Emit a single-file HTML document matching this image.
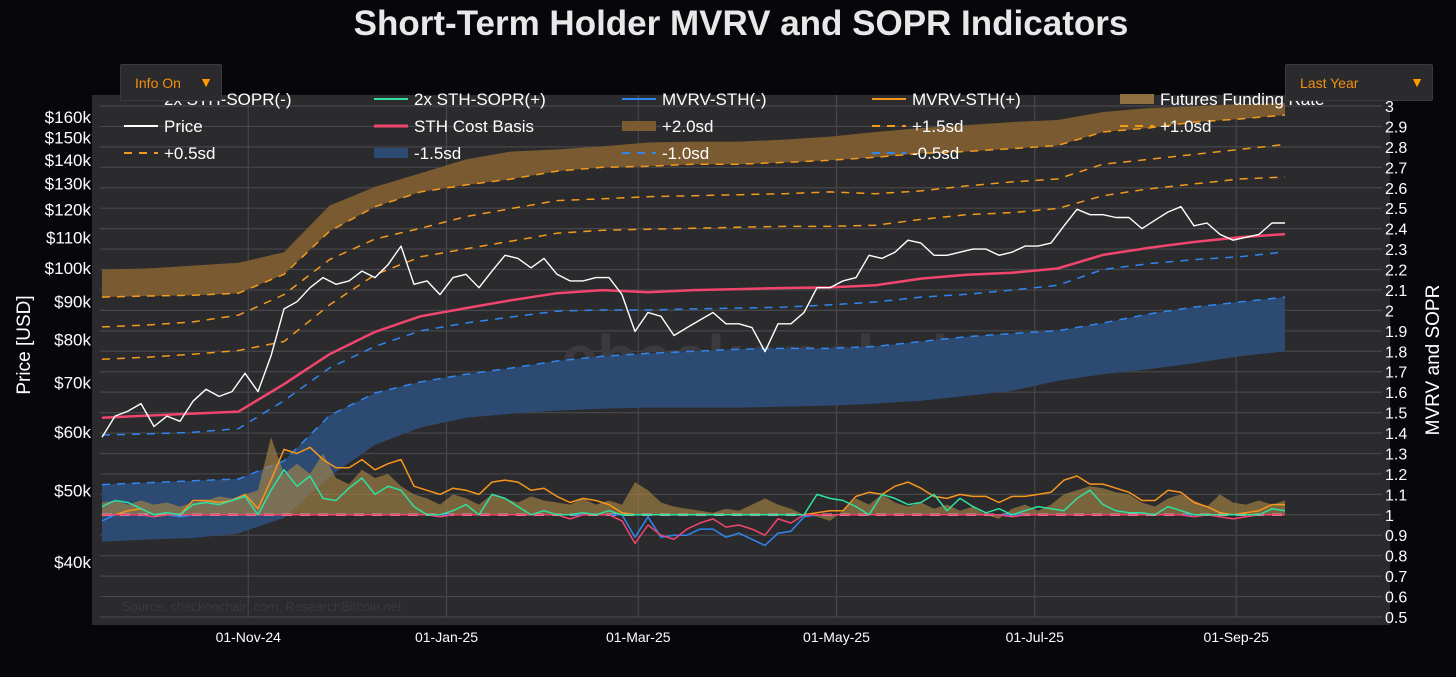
<!DOCTYPE html>
<html><head><meta charset="utf-8">
<style>
html,body{margin:0;padding:0;background:#06060b;width:1456px;height:677px;overflow:hidden;font-family:"Liberation Sans",sans-serif;}
#wrap{position:relative;width:1456px;height:677px;}
svg{position:absolute;left:0;top:0;}
.btn{position:absolute;background:#2b2b2e;border:1px solid #3a3a3e;border-radius:2px;color:#f0900c;font-size:14px;box-sizing:border-box;}
.btn span.arr{position:absolute;right:8px;top:9px;color:#ff9a00;font-size:14px;}
</style></head>
<body>
<div id="wrap">
<svg id="chart" width="1456" height="677"></svg>
<div class="btn" style="left:120px;top:64px;width:102px;height:37px;"><span style="position:absolute;left:14px;top:10px;">Info On</span><span class="arr">▼</span></div>
<div class="btn" style="left:1285px;top:64px;width:148px;height:37px;"><span style="position:absolute;left:14px;top:10px;">Last Year</span><span class="arr">▼</span></div>
</div>
<script>
// ---- data ----
// price (k USD), every 4 days starting 2024-09-17
const priceStep = 4;
const price = [59,63,64,65.5,61,63,62,66,68.5,67,68,72,68,76,88,90,94,97,95,96,99,97,101,107,95,96,92,97,98,94,99,104,103,100,103,98,96,96,97,97,92,82,87,86,81,83,85,87,84,84,83,77,84,84,87,94,94,96,97,104,103,105,109,108,104,104,105,106,106,104,105,107,107,108,114,120,118,118,117,117,113,116,119,121,114,115,111,109,110,111,115,115];
// bands (k USD), every 14 days
const bandStep = 14;
const costBasis = [62.7,63.1,63.5,63.9,69.6,76.4,81.9,86.0,88.2,90.4,92.4,93.3,92.7,93.3,93.6,93.9,94.1,94.7,96.7,97.9,98.5,99.8,104.1,106.4,108.4,110.0,111.1];
const sdPlus20 = [99.5,99.8,100.7,101.6,105.0,121.4,128.7,134.3,140.2,143.7,144.6,146.0,147.8,148.2,148.2,149.1,150.5,152.7,154.6,156.0,157.5,158.5,162.5,164.5,165.5,166.6,167.1];
const sdPlus15 = [91.3,91.6,91.8,92.4,98.0,112.1,121.0,126.7,129.5,131.9,135.2,136.8,137.2,138.1,138.1,138.9,139.8,141.1,142.9,143.7,145.0,146.4,152.7,154.6,157.5,159.0,161.0];
const sdPlus10 = [83.2,83.7,84.5,86.3,92.0,102.6,109.4,113.1,117.3,120.3,123.3,124.0,124.8,125.2,125.6,126.0,126.7,126.0,127.1,129.1,130.7,131.9,138.1,140.2,142.4,144.6,146.9];
const sdPlus05 = [75.2,75.7,76.4,77.3,79.5,89.1,97.9,103.5,106.1,108.7,111.4,112.4,112.8,113.1,113.5,113.8,113.8,114.2,116.3,118.0,118.8,120.3,125.2,127.9,129.9,131.9,132.7];
const sdMinus05 = [59.4,59.6,59.9,60.6,66.1,73.2,78.3,82.2,84.2,85.8,87.4,87.7,87.7,88.0,88.2,88.5,89.1,89.9,91.3,92.1,93.3,94.7,99.5,101.3,102.6,103.5,105.1];
const sdMinus10 = [50.9,51.2,51.5,51.8,54.8,63.1,67.7,70.1,71.8,73.2,74.8,75.9,76.6,77.1,77.6,77.8,77.8,78.3,79.5,80.7,81.5,82.2,84.2,86.6,88.5,89.9,91.3];
const sdMinus15 = [42.6,42.9,43.1,43.7,45.9,52.2,57.6,60.8,62.7,63.5,64.1,64.5,64.7,64.7,64.7,64.9,65.1,65.5,66.1,67.1,68.2,70.3,71.8,72.9,74.3,75.9,77.1];
// oscillators (right axis), every 4 days
const mvrv = [0.97,1.0,1.02,1.03,0.99,1.0,0.99,1.07,1.07,1.06,1.07,1.1,1.03,1.17,1.32,1.30,1.33,1.27,1.23,1.23,1.27,1.22,1.25,1.27,1.14,1.12,1.10,1.13,1.12,1.10,1.16,1.17,1.16,1.12,1.13,1.09,1.06,1.08,1.07,1.05,1.01,0.89,0.99,0.89,0.90,0.90,0.93,0.93,0.89,0.91,0.88,0.85,0.91,0.92,0.99,1.01,1.02,1.02,1.09,1.11,1.10,1.14,1.16,1.13,1.09,1.08,1.10,1.09,1.09,1.06,1.09,1.09,1.10,1.11,1.17,1.19,1.15,1.15,1.13,1.11,1.07,1.07,1.12,1.11,1.06,1.04,1.01,1.00,1.01,1.02,1.05,1.05];
const sopr2x = [1.04,1.07,1.06,1.03,0.99,1.01,1.0,1.05,1.06,1.05,1.07,1.09,1.0,1.12,1.22,1.14,1.19,1.08,1.07,1.13,1.18,1.1,1.14,1.12,1.04,1.0,0.99,1.02,1.05,1.0,1.1,1.08,1.04,1.0,1.02,1.0,0.98,1.01,1.0,1.02,0.97,0.86,0.95,0.9,0.88,0.93,0.96,0.98,0.94,0.95,0.93,0.9,0.98,0.96,1.0,1.1,1.08,1.07,1.04,1.0,1.1,1.08,1.05,1.06,1.1,1.02,1.08,1.04,1.01,1.03,0.99,1.02,1.04,1.03,1.02,1.08,1.12,1.05,1.02,1.01,1.01,1.0,1.04,1.02,0.99,1.0,0.99,0.98,0.99,1.0,1.03,1.02];
const funding = [1.06,1.07,1.05,1.07,1.05,1.06,1.04,1.06,1.07,1.09,1.08,1.1,1.12,1.38,1.2,1.25,1.2,1.3,1.18,1.15,1.22,1.18,1.2,1.14,1.1,1.08,1.05,1.1,1.08,1.05,1.1,1.08,1.06,1.09,1.07,1.06,1.05,1.08,1.05,1.07,1.05,1.16,1.12,1.06,1.04,1.03,1.02,1.01,1.03,1.02,1.05,1.08,1.05,1.03,1.0,0.99,0.97,1.02,1.08,1.05,1.1,1.06,1.04,1.06,1.03,1.05,1.02,1.04,1.0,0.98,1.03,1.05,1.02,1.05,1.1,1.12,1.14,1.13,1.11,1.1,1.06,1.04,1.08,1.1,1.07,1.04,1.1,1.06,1.05,1.07,1.05,1.07];
const leftTicks = [160,150,140,130,120,110,100,90,80,70,60,50,40];
const rightTicks = [3,2.9,2.8,2.7,2.6,2.5,2.4,2.3,2.2,2.1,2,1.9,1.8,1.7,1.6,1.5,1.4,1.3,1.2,1.1,1,0.9,0.8,0.7,0.6,0.5];
const xLabels = ["01-Nov-24","01-Jan-25","01-Mar-25","01-May-25","01-Jul-25","01-Sep-25"];
const xLabelDays = [45,106,165,226,287,349];

// ---- axes ----
const PL=92, PR=1390, PT=95, PB=625;
const xDay = d => 102 + 3.25*d;
const yPrice = p => 117 + 739*Math.log10(160/p);
const yRight = v => 617 - (v-0.5)*204.4;

const svg = document.getElementById('chart');
const NS='http://www.w3.org/2000/svg';
function mk(tag, attrs, parent){const e=document.createElementNS(NS,tag);for(const k in attrs)e.setAttribute(k,attrs[k]);(parent||svg).appendChild(e);return e;}

let e;
e = mk('rect',{x:PL,y:PT,width:PR-PL,height:PB-PT,fill:'#2b2b2e'});



// gridlines
const grid = mk('g',{});


rightTicks.forEach(v=>{const y=yRight(v);mk('line',{x1:PL+8,x2:PR-8,y1:y,y2:y,stroke:'#47474b','stroke-width':1.2},grid);});
xLabelDays.forEach(d=>{const x=xDay(d);mk('line',{x1:x,x2:x,y1:PT,y2:PB-8,stroke:'#47474b','stroke-width':1.2},grid);});

// watermark
e = mk('text',{x:757,y:380,'font-size':64,'font-weight':'bold',fill:'#3a3a3f','text-anchor':'middle','font-family':'Liberation Sans, sans-serif'});
e.textContent='_checkonchain';


e = mk('text',{x:122,y:611,'font-size':13,fill:'#3a3a3e','font-family':'Liberation Sans, sans-serif'});
e.textContent='Source: checkonchain.com, ResearchBitcoin.net';



function bandPts(arr, step, fy){return arr.map((v,i)=>[xDay(i*step), fy(v)]);}
function pathOf(pts){return pts.map((p,i)=>(i?'L':'M')+p[0].toFixed(1)+','+p[1].toFixed(1)).join(' ');}
function area(top, bot, fill, name){
  const d = pathOf(top)+' '+bot.slice().reverse().map(p=>'L'+p[0].toFixed(1)+','+p[1].toFixed(1)).join(' ')+' Z';
  const el = mk('path',{d:d,fill:fill});
  
  
  return el;
}
function line(pts, stroke, w, dash, name){
  const el = mk('path',{d:pathOf(pts),fill:'none',stroke:stroke,'stroke-width':w,'stroke-linejoin':'round'});
  if(dash) el.setAttribute('stroke-dasharray',dash);
  
  
  return el;
}

// bands
area(bandPts(sdPlus20,bandStep,yPrice), bandPts(sdPlus15,bandStep,yPrice), '#7a5a30', 'band-plus-2sd');
area(bandPts(sdMinus10,bandStep,yPrice), bandPts(sdMinus15,bandStep,yPrice), '#2d4a72', 'band-minus-1-5sd');
line(bandPts(sdPlus15,bandStep,yPrice),'#f39a1e',1.5,'8 7','line-plus-1-5sd');
line(bandPts(sdPlus10,bandStep,yPrice),'#f39a1e',1.5,'8 7','line-plus-1-0sd');
line(bandPts(sdPlus05,bandStep,yPrice),'#f39a1e',1.5,'8 7','line-plus-0-5sd');
line(bandPts(sdMinus05,bandStep,yPrice),'#2f86f0',1.5,'8 7','line-minus-0-5sd');
line(bandPts(sdMinus10,bandStep,yPrice),'#2f86f0',1.5,'8 7','line-minus-1-0sd');

// funding fill
const fTop = funding.map((v,i)=>[xDay(i*priceStep), yRight(v)]);
const fBase = funding.map((v,i)=>[xDay(i*priceStep), yRight(1)]);
area(fTop, fBase, 'rgba(170,135,70,0.62)', 'funding-rate-area');

// baseline
e = mk('line',{x1:xDay(0),x2:xDay(364),y1:yRight(1),y2:yRight(1),stroke:'#d8a0b4','stroke-width':2.5,'stroke-dasharray':'10 8'});



// oscillators
line(mvrv.map((v,i)=>[xDay(i*priceStep), yRight(Math.min(v,1))]),'#2f86f0',1.5,null,'mvrv-sth-negative');
line(mvrv.map((v,i)=>[xDay(i*priceStep), yRight(Math.max(v,1))]),'#f7951d',1.5,null,'mvrv-sth-positive');
line(sopr2x.map((v,i)=>[xDay(i*priceStep), yRight(Math.min(v,1))]),'#f2456e',1.5,null,'sopr-negative');
line(sopr2x.map((v,i)=>[xDay(i*priceStep), yRight(Math.max(v,1))]),'#2fe0a0',1.5,null,'sopr-positive');

// cost basis & price
line(bandPts(costBasis,bandStep,yPrice),'#f2456e',2.5,null,'sth-cost-basis-line');
line(price.map((v,i)=>[xDay(i*priceStep), yPrice(v)]),'#ffffff',1.4,null,'price-line');

// axis labels
const la = mk('g',{});


leftTicks.forEach(v=>{const t=mk('text',{x:91,y:yPrice(v)+6,'text-anchor':'end','font-size':17,fill:'#ffffff','font-family':'Liberation Sans, sans-serif'},la);t.textContent='$'+v+'k';});
const ra = mk('g',{});


rightTicks.forEach(v=>{const t=mk('text',{x:1385,y:yRight(v)+6,'font-size':16,fill:'#ffffff','font-family':'Liberation Sans, sans-serif'},ra);t.textContent=String(v);});
const xa = mk('g',{});


xLabels.forEach((l,i)=>{const t=mk('text',{x:xDay(xLabelDays[i]),y:642,'text-anchor':'middle','font-size':14,fill:'#ffffff','font-family':'Liberation Sans, sans-serif'},xa);t.textContent=l;});

e = mk('text',{x:0,y:0,transform:'translate(30,345) rotate(-90)','text-anchor':'middle','font-size':19,fill:'#ffffff','font-family':'Liberation Sans, sans-serif'});
e.textContent='Price [USD]';


e = mk('text',{x:0,y:0,transform:'translate(1439,360) rotate(-90)','text-anchor':'middle','font-size':19,fill:'#ffffff','font-family':'Liberation Sans, sans-serif'});
e.textContent='MVRV and SOPR';



e = mk('text',{x:741,y:35,'text-anchor':'middle','font-size':35,'font-weight':'bold',fill:'#e8e8e8','font-family':'Liberation Sans, sans-serif'});
e.textContent='Short-Term Holder MVRV and SOPR Indicators';



// legend
const legendItems = [
 ['2x STH-SOPR(-)','line','#f2456e',124,99],['2x STH-SOPR(+)','line','#2fe0a0',374,99],['MVRV-STH(-)','line','#2f86f0',622,99],['MVRV-STH(+)','line','#f7951d',872,99],['Futures Funding Rate','fill','#8c7040',1120,99],
 ['Price','line','#ffffff',124,126],['STH Cost Basis','line','#f2456e',374,126],['+2.0sd','fill','#7a5a30',622,126],['+1.5sd','dash','#f39a1e',872,126],['+1.0sd','dash','#f39a1e',1120,126],
 ['+0.5sd','dash','#f39a1e',124,153],['-1.5sd','fill','#2d4a72',374,153],['-1.0sd','dash','#2f86f0',622,153],['-0.5sd','dash','#2f86f0',872,153]
];
const lg = mk('g',{});


legendItems.forEach(it=>{
  const g = mk('g',{},lg);
  
  
  const [lab,type,col,x,y]=it;
  if(type==='fill') mk('rect',{x:x,y:y-5,width:34,height:10,fill:col},g);
  else { const l=mk('line',{x1:x,x2:x+34,y1:y,y2:y,stroke:col,'stroke-width':type==='line'&&col==='#f2456e'?3:2},g); if(type==='dash') l.setAttribute('stroke-dasharray','8 7'); }
  const t=mk('text',{x:x+40,y:y+6,'font-size':17,fill:'#ffffff','font-family':'Liberation Sans, sans-serif'},g);
  t.textContent=lab;
});
</script>
</body></html>
